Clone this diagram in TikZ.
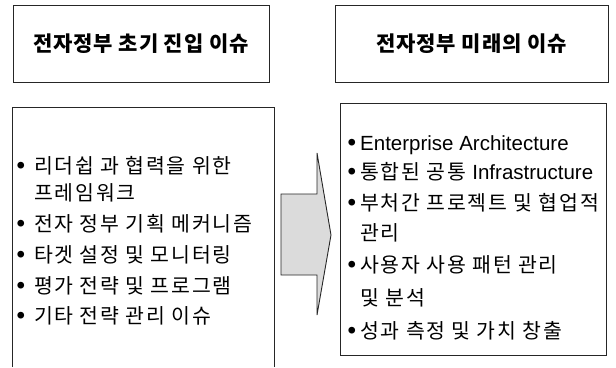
\documentclass[tikz,border=0pt]{standalone}
\usepackage{fontspec}
\newfontfamily\krfont[LetterSpace=8.5]{Noto Sans CJK KR}
\newfontfamily\krhead[LetterSpace=4]{Noto Sans CJK KR}
\newfontfamily\latfont{Liberation Sans}
\newcommand\bul{\raisebox{4.6pt}{\fontsize{7.5}{7.5}\selectfont ●}}
\newcommand\lat[1]{{\latfont #1}}
\begin{document}
\begin{tikzpicture}[x=1pt,y=-1pt,
  box/.style={draw=black!85, line width=0.9pt, inner sep=0pt},
  headbox/.style={box, font=\krhead\bfseries\fontsize{21}{24}\selectfont},
  item/.style={anchor=base west, inner sep=0pt, font=\krfont\fontsize{20.5}{24}\selectfont},
  bigarrow/.style={draw=black!85, line width=0.9pt, fill=black!14, line join=miter}]
\useasboundingbox (0,0) rectangle (616,367);
% headers
\node[headbox, minimum width=256pt, minimum height=77pt] (lh) at (141,43.5) {전자정부 초기 진입 이슈};
\node[headbox, minimum width=273pt, minimum height=77pt] (rh) at (471.5,43.5) {전자정부 미래의 이슈};
% body boxes
\node[inner sep=0pt, minimum width=261pt, minimum height=259pt] (lb) at (143.5,237.5) {};
\draw[draw=black!85, line width=0.9pt] (lb.south west) -- (lb.north west) -- (lb.north east) -- (lb.south east);
\node[box, minimum width=266pt, minimum height=252pt] (rb) at (473,229) {};
% left items
\node[item] (l1) at (17,173) {\makebox[17pt][l]{\bul}리더쉽 과 협력을 위한};
\node[item] (l1b) at (34,200) {프레임워크};
\node[item] (l2) at (17,231) {\makebox[17pt][l]{\bul}전자 정부 기획 메커니즘};
\node[item] (l3) at (17,262) {\makebox[17pt][l]{\bul}타겟 설정 및 모니터링};
\node[item] (l4) at (17,293) {\makebox[17pt][l]{\bul}평가 전략 및 프로그램};
\node[item] (l5) at (17,323) {\makebox[17pt][l]{\bul}기타 전략 관리 이슈};
% right items
\node[item] (r1) at (348,150) {\makebox[12pt][l]{\bul}\lat{Enterprise Architecture}};
\node[item] (r2) at (348,179) {\makebox[12pt][l]{\bul}통합된 공통 \lat{Infrastructure}};
\node[item] (r3) at (348,210) {\makebox[12pt][l]{\bul}부처간 프로젝트 및 협업적};
\node[item] (r3b) at (360,240) {관리};
\node[item] (r4) at (348,272) {\makebox[12pt][l]{\bul}사용자 사용 패턴 관리};
\node[item] (r4b) at (360,305) {및 분석};
\node[item] (r5) at (348,338) {\makebox[12pt][l]{\bul}성과 측정 및 가치 창출};
% arrow between boxes
\draw[bigarrow] (281,194) -- (317,194) -- (317,153) -- (331,235) -- (317,315) -- (317,275) -- (281,275) -- cycle;
\end{tikzpicture}
\end{document}
